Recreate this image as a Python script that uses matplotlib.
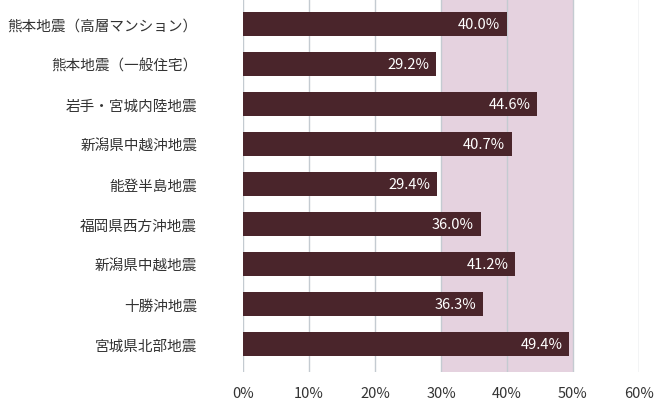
import matplotlib
matplotlib.use("Agg")
import matplotlib.pyplot as plt
from matplotlib.ticker import FuncFormatter

plt.rcParams['font.family'] = ['Noto Sans CJK JP', 'DejaVu Sans']

categories = ["熊本地震（高層マンション）", "熊本地震（一般住宅）", "岩手・宮城内陸地震",
              "新潟県中越沖地震", "能登半島地震", "福岡県西方沖地震",
              "新潟県中越地震", "十勝沖地震", "宮城県北部地震"]
values = [40.0, 29.2, 44.6, 40.7, 29.4, 36.0, 41.2, 36.3, 49.4]
xticks = [0, 10, 20, 30, 40, 50, 60]
band = (30, 50)

bar_color = "#4a252b"
band_color = "#e5d2df"
grid_color = "#c4cbd1"
text_color = "#333333"

fig = plt.figure(figsize=(6.56, 4.02), dpi=100)
ax = fig.add_axes([243/656, 1 - 373/402, (639-243)/656, 373/402])

ax.axvspan(band[0], band[1], color=band_color, zorder=0, lw=0)
for t in xticks:
    ax.axvline(t, color=grid_color, lw=1, zorder=1)

ypos = list(range(len(categories)))
ax.barh(ypos, values, height=0.6, color=bar_color, zorder=2)
for y, v in zip(ypos, values):
    ax.text(v - 1.0, y, f"{v:.1f}%", color="white", ha="right", va="center",
            fontsize=10.5, zorder=3)

ax.set_xlim(0, 60)
ax.set_ylim(8.7, -0.625)
ax.set_yticks(ypos)
ax.set_yticklabels(categories, fontsize=10.5, color=text_color)
ax.set_xticks(xticks)
ax.xaxis.set_major_formatter(FuncFormatter(lambda x, p: f"{int(x)}%"))
ax.tick_params(axis='x', length=0, pad=10, labelsize=10.5, labelcolor=text_color)
ax.tick_params(axis='y', length=0, pad=33)
for s in ax.spines.values():
    s.set_visible(False)

fig.savefig("out.png", dpi=100)
